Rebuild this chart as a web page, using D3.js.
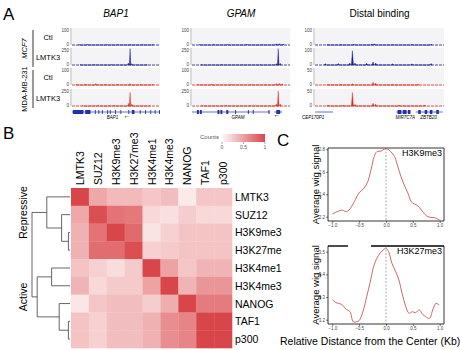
<!DOCTYPE html>
<html>
<head>
<meta charset="utf-8">
<script src="https://cdn.jsdelivr.net/npm/d3@7"></script>
<style>
  body { margin: 0; background: #fff; }
  svg { font-family: "Liberation Sans", Arial, sans-serif; }
</style>
</head>
<body>
<div id="chart"></div>
<script>
// ---------- Panel A data ----------
const loci = ["BAP1", "GPAM", "Distal binding"];
const cellLines = ["MCF7", "MDA-MB-231"];
const trackNames = ["Ctl", "LMTK3", "Ctl", "LMTK3"];
const trackMax = [[100, 250, 100, 250], [100, 250, 100, 250], [100, 100, 50, 50]];

// spikes per track: [position 0-100, value]
const bap1Signal = [
  [[8, 3], [18, 4], [40, 3], [52, 3], [66, 4], [80, 3], [92, 3]],
  [[10, 6], [25, 8], [45, 6], [64, 30], [66, 240], [68, 20], [85, 6]],
  [[5, 5], [15, 6], [27, 9], [38, 6], [52, 5], [66, 7], [78, 5], [92, 4]],
  [[12, 8], [30, 10], [48, 8], [64, 40], [66, 200], [68, 30], [88, 6]]
];
const gpamSignal = [
  [[8, 3], [22, 4], [36, 3], [56, 5], [72, 3], [86, 7], [89, 8], [93, 6]],
  [[10, 6], [30, 6], [52, 5], [70, 6], [86, 20], [88, 240], [90, 25]],
  [[6, 4], [20, 4], [40, 4], [60, 4], [75, 4], [86, 9], [89, 10], [92, 7]],
  [[10, 6], [35, 6], [60, 6], [86, 30], [88, 220], [90, 30]]
];
const distalSignal = [
  [[10, 3], [20, 3], [30, 4], [44, 6], [46, 7], [60, 3], [75, 3], [90, 3]],
  [[8, 8], [18, 9], [27, 12], [29, 84], [31, 12], [40, 10], [45, 18], [47, 12], [60, 8], [75, 7], [90, 9]],
  [[10, 2], [20, 2], [29, 4], [45, 8], [47, 6], [60, 2], [80, 2]],
  [[10, 3], [22, 3], [29, 40], [31, 5], [45, 8], [47, 6], [65, 3], [85, 3]]
];
const signals = [bap1Signal, gpamSignal, distalSignal];

// gene models: exons [start, end] in 0-100 units
const geneLines = [[[0, 100]], [[0, 80], [84, 92]], [[0, 14], [63, 74], [78, 99]]];
const geneExons = [
  [[1, 13], [15, 21], [26, 27], [30, 31], [34, 35], [40, 41], [43, 44], [49, 50], [55, 56], [64, 65], [68, 71], [77, 78], [83, 84], [89, 90], [94, 95], [99, 100]],
  [[5, 7], [8, 10], [26, 28], [29, 31], [35, 37], [44, 45], [57, 58], [62, 63], [78, 79], [86, 90]],
  [[64, 67], [68, 71], [72, 74], [80, 82], [85, 87], [89, 91], [94, 96]]
];
const geneLabels = [
  [["BAP1", 46]],
  [["GPAM", 47]],
  [["CEP170P1", -10], ["MIR7C7A", 70], ["ZBTB20", 88]]
];

// ---------- Panel B data ----------
const marks = ["LMTK3", "SUZ12", "H3K9me3", "H3K27me3", "H3K4me1", "H3K4me3", "NANOG", "TAF1", "p300"];
const rowLabels = ["LMTK3", "SUZ12", "H3K9me3", "H3K27me", "H3K4me1", "H3K4me3", "NANOG", "TAF1", "p300"];
const counts = [
  [1.00, 0.45, 0.35, 0.35, 0.28, 0.33, 0.08, 0.28, 0.28],
  [0.45, 0.95, 0.75, 0.72, 0.18, 0.14, 0.24, 0.18, 0.18],
  [0.40, 0.75, 1.00, 0.80, 0.12, 0.22, 0.30, 0.30, 0.30],
  [0.40, 0.78, 0.78, 0.95, 0.22, 0.26, 0.30, 0.30, 0.30],
  [0.30, 0.22, 0.16, 0.26, 1.00, 0.48, 0.28, 0.38, 0.38],
  [0.38, 0.18, 0.26, 0.26, 0.48, 1.00, 0.38, 0.55, 0.55],
  [0.10, 0.28, 0.33, 0.33, 0.24, 0.42, 1.00, 0.70, 0.70],
  [0.30, 0.22, 0.33, 0.33, 0.40, 0.60, 0.65, 1.00, 1.00],
  [0.30, 0.22, 0.33, 0.33, 0.40, 0.60, 0.65, 1.00, 1.00]
];
const legendTicks = [0, 0.5, 1];
const dendro = { h: 0.95, children: [
  { h: 0.58, children: [{ name: "LMTK3" }, { h: 0.21, children: [{ name: "SUZ12" }, { h: 0.04, children: [{ name: "H3K9me3" }, { name: "H3K27me3" }] }] }] },
  { h: 0.82, children: [
    { h: 0.46, children: [{ name: "H3K4me1" }, { name: "H3K4me3" }] },
    { h: 0.27, children: [{ name: "NANOG" }, { h: 0.04, children: [{ name: "TAF1" }, { name: "p300" }] }] }
  ] }
] };
const clusterNames = ["Repressive", "Active"];

// ---------- Panel C data ----------
const profileNames = ["H3K9me3", "H3K27me3"];
const k9x = [-1.0, -0.91, -0.81, -0.75, -0.69, -0.59, -0.5, -0.41, -0.34, -0.28, -0.22, -0.17, -0.09, -0.03, 0.03, 0.09, 0.16, 0.22, 0.28, 0.34, 0.41, 0.47, 0.53, 0.59, 0.66, 0.72, 0.78, 0.84, 0.91, 1.0];
const k9y = [2.224, 2.245, 2.259, 2.245, 2.259, 2.334, 2.414, 2.453, 2.512, 2.616, 2.735, 2.779, 2.785, 2.803, 2.803, 2.779, 2.735, 2.646, 2.556, 2.482, 2.408, 2.334, 2.313, 2.298, 2.259, 2.224, 2.2, 2.194, 2.191, 2.17];
const k27x = [-1.0, -0.93, -0.83, -0.74, -0.67, -0.61, -0.55, -0.5, -0.42, -0.36, -0.3, -0.23, -0.17, -0.11, -0.04, 0, 0.05, 0.11, 0.18, 0.24, 0.3, 0.37, 0.43, 0.49, 0.55, 0.62, 0.68, 0.74, 0.81, 0.87, 0.93, 0.99];
const k27y = [3.29, 3.275, 3.268, 3.246, 3.235, 3.191, 3.191, 3.196, 3.243, 3.301, 3.36, 3.434, 3.471, 3.493, 3.51, 3.515, 3.5, 3.449, 3.412, 3.375, 3.316, 3.257, 3.228, 3.235, 3.231, 3.243, 3.224, 3.213, 3.206, 3.243, 3.272, 3.265];
const xTicks = [-1, -0.5, 0, 0.5, 1];
const k9Ticks = [2.2, 2.4, 2.6, 2.8];
const k27Ticks = [3.2, 3.3, 3.4, 3.5];

// ---------- SVG ----------
const width = 460, height = 350;
const svg = d3.select("#chart").append("svg")
  .attr("width", width).attr("height", height);

const blue = "#1d1f8e", red = "#d6301e";

// panel letters
[["A", 3, 20], ["B", 3, 139], ["C", 277, 146]].forEach(d => {
  svg.append("text").attr("x", d[1]).attr("y", d[2]).text(d[0])
    .style("font-size", "17px");
});

// ---------- Panel A ----------
const lociX = [[72, 160], [192, 290], [315, 444]];
const trackTop = [28, 48, 68, 89];
const trackH = 17;

// titles
loci.forEach((name, i) => {
  svg.append("text")
    .attr("x", (lociX[i][0] + lociX[i][1]) / 2)
    .attr("y", 17)
    .attr("text-anchor", "middle")
    .style("font-size", "10px")
    .style("font-style", i < 2 ? "italic" : "normal")
    .text(name);
});

// cell line labels and brackets
cellLines.forEach((name, i) => {
  const y0 = trackTop[i * 2] + 2, y1 = trackTop[i * 2 + 1] + trackH + 2;
  svg.append("line").attr("x1", 33).attr("x2", 33).attr("y1", y0).attr("y2", y1)
    .attr("stroke", "#000").attr("stroke-width", 0.8);
  svg.append("text")
    .attr("transform", `translate(27,${(y0 + y1) / 2}) rotate(-90)`)
    .attr("text-anchor", "middle")
    .style("font-size", "7.5px")
    .style("font-style", i === 0 ? "italic" : "normal")
    .text(name);
});
trackNames.forEach((name, i) => {
  svg.append("text")
    .attr("x", 48).attr("y", trackTop[i] + 12)
    .attr("text-anchor", "middle")
    .style("font-size", "7.5px")
    .text(name);
});

signals.forEach((tracks, li) => {
  const x = d3.scaleLinear().domain([0, 100]).range(lociX[li]);
  const g = svg.append("g");
  tracks.forEach((spikes, ti) => {
    const color = ti < 2 ? blue : red;
    const y = d3.scaleLinear().domain([0, trackMax[li][ti]]).range([trackTop[ti] + trackH, trackTop[ti]]);
    g.append("rect")
      .attr("x", x(0)).attr("y", trackTop[ti])
      .attr("width", x(100) - x(0)).attr("height", trackH + 1)
      .attr("fill", "#f4f4f7");
    // axis
    g.append("line").attr("x1", x(0) - 1).attr("x2", x(0) - 1)
      .attr("y1", trackTop[ti]).attr("y2", trackTop[ti] + trackH)
      .attr("stroke", "#888").attr("stroke-width", 0.6);
    g.append("text")
      .attr("x", x(0) - 3).attr("y", trackTop[ti] + 3.5)
      .attr("text-anchor", "end")
      .style("font-size", "4.5px").attr("fill", "#444")
      .text(trackMax[li][ti]);
    g.append("text")
      .attr("x", x(0) - 3).attr("y", y(0) + 1)
      .attr("text-anchor", "end")
      .style("font-size", "4.5px").attr("fill", "#444")
      .text(0);
    // baseline
    g.append("line").attr("x1", x(0)).attr("x2", x(100))
      .attr("y1", y(0)).attr("y2", y(0))
      .attr("stroke", color).attr("stroke-width", 0.8)
      .attr("stroke-dasharray", "3 1");
    // spikes
    const pts = [];
    spikes.forEach(s => { pts.push([s[0] - 0.8, 0], [s[0], s[1]], [s[0] + 0.8, 0]); });
    pts.sort((a, b) => a[0] - b[0]);
    g.append("path")
      .datum(pts)
      .attr("fill", color)
      .attr("stroke", color).attr("stroke-width", 0.4)
      .attr("d", d3.area().x(d => x(d[0])).y0(y(0)).y1(d => y(d[1])));
  });
  // gene model
  const gy = 112;
  geneLines[li].forEach(l => {
    g.append("line").attr("x1", x(l[0])).attr("x2", x(l[1]))
      .attr("y1", gy).attr("y2", gy).attr("stroke", "#2233aa").attr("stroke-width", 0.7);
  });
  geneExons[li].forEach(e => {
    g.append("rect").attr("x", x(e[0])).attr("y", gy - 2)
      .attr("width", x(e[1]) - x(e[0])).attr("height", 4)
      .attr("fill", "#2233aa");
  });
  geneLabels[li].forEach(l => {
    g.append("text").attr("x", x(l[1])).attr("y", 119)
      .attr("text-anchor", l[1] < 0 ? "start" : "middle")
      .style("font-size", "4.5px").style("font-style", "italic")
      .text(l[0]);
  });
});
// strand arrows
svg.append("text").attr("x", 127).attr("y", 118).style("font-size", "7px").attr("text-anchor", "middle").text("←");
svg.append("text").attr("x", 277).attr("y", 117).style("font-size", "7px").attr("text-anchor", "middle").text("←");

// ---------- Panel B ----------
const hx = d3.scaleBand().domain(marks).range([71, 232]);
const hy = d3.scaleBand().domain(marks).range([188, 348]);
const color = d3.scaleLinear().domain([0, 1]).range(["#fff8f8", "#d9464a"]).interpolate(d3.interpolateRgb);

const cells = [];
counts.forEach((row, i) => row.forEach((v, j) => cells.push({ r: marks[i], c: marks[j], v })));
svg.append("g").selectAll("rect")
  .data(cells).enter().append("rect")
  .attr("x", d => hx(d.c)).attr("y", d => hy(d.r))
  .attr("width", hx.bandwidth() + 0.3).attr("height", hy.bandwidth() + 0.3)
  .attr("fill", d => color(d.v));

svg.append("g").selectAll("text")
  .data(marks).enter().append("text")
  .attr("transform", d => `translate(${hx(d) + hx.bandwidth() / 2 + 4},185) rotate(-90)`)
  .style("font-size", "10.5px")
  .text(d => d);

svg.append("g").selectAll("text")
  .data(rowLabels).enter().append("text")
  .attr("x", 235)
  .attr("y", (d, i) => hy(marks[i]) + hy.bandwidth() / 2 + 4)
  .style("font-size", "10.5px")
  .text(d => d);

// legend
const lx = d3.scaleLinear().domain([0, 1]).range([222, 265]);
const grad = svg.append("defs").append("linearGradient").attr("id", "cgrad");
legendTicks.forEach(t => grad.append("stop").attr("offset", t).attr("stop-color", color(t)));
svg.append("rect").attr("x", lx(0)).attr("y", 134).attr("width", lx(1) - lx(0)).attr("height", 8)
  .attr("fill", "url(#cgrad)");
svg.append("text").attr("x", 219).attr("y", 139).attr("text-anchor", "end")
  .style("font-size", "6px").attr("fill", "#555").text("Counts");
legendTicks.forEach(t => {
  svg.append("line").attr("x1", lx(t)).attr("x2", lx(t)).attr("y1", 142).attr("y2", 144)
    .attr("stroke", "#555").attr("stroke-width", 0.5);
  svg.append("text").attr("x", lx(t)).attr("y", 149).attr("text-anchor", "middle")
    .style("font-size", "5px").attr("fill", "#555").text(t);
});

// dendrogram
const root = d3.hierarchy(dendro);
const dx = d3.scaleLinear().domain([0, 0.95]).range([70, 32]);
root.eachAfter(n => {
  n.py = n.children ? d3.mean(n.children, c => c.py) : hy(n.data.name) + hy.bandwidth() / 2;
  n.px = dx(n.data.h || 0);
});
const dg = svg.append("g").attr("stroke", "#555").attr("stroke-width", 0.9).attr("fill", "none");
root.descendants().filter(n => n.children).forEach(n => {
  dg.append("line").attr("x1", n.px).attr("x2", n.px)
    .attr("y1", d3.min(n.children, c => c.py)).attr("y2", d3.max(n.children, c => c.py));
  n.children.forEach(c => {
    dg.append("line").attr("x1", n.px).attr("x2", c.px).attr("y1", c.py).attr("y2", c.py);
  });
});
root.children.forEach((c, i) => {
  svg.append("text")
    .attr("transform", `translate(27,${c.py}) rotate(-90)`)
    .attr("text-anchor", "middle")
    .style("font-size", "10.5px")
    .text(clusterNames[i]);
});

// ---------- Panel C ----------
const cx = d3.scaleLinear().domain([-1.08, 1.08]).range([328, 444]);
const plots = [
  { name: profileNames[0], xs: k9x, ys: k9y, ticks: k9Ticks, top: 148, bottom: 221, domain: [2.162, 2.812], gap: null },
  { name: profileNames[1], xs: k27x, ys: k27y, ticks: k27Ticks, top: 246, bottom: 324, domain: [3.181, 3.525], gap: [348, 371] }
];
plots.forEach(p => {
  const y = d3.scaleLinear().domain(p.domain).range([p.bottom, p.top]);
  const g = svg.append("g");
  // box
  const bx = [cx.range()[0], cx.range()[1]];
  g.append("line").attr("x1", bx[0]).attr("x2", bx[0]).attr("y1", p.top).attr("y2", p.bottom).attr("stroke", "#000").attr("stroke-width", 0.8);
  g.append("line").attr("x1", bx[1]).attr("x2", bx[1]).attr("y1", p.top).attr("y2", p.bottom).attr("stroke", "#000").attr("stroke-width", 0.8);
  g.append("line").attr("x1", bx[0]).attr("x2", bx[1]).attr("y1", p.bottom).attr("y2", p.bottom).attr("stroke", "#000").attr("stroke-width", 0.8);
  const topSegs = p.gap ? [[bx[0], p.gap[0]], [p.gap[1], bx[1]]] : [bx];
  topSegs.forEach(s => g.append("line").attr("x1", s[0]).attr("x2", s[1]).attr("y1", p.top).attr("y2", p.top).attr("stroke", "#000").attr("stroke-width", p.gap ? 1.4 : 0.8));

  g.append("g").attr("transform", `translate(0,${p.bottom})`)
    .call(d3.axisBottom(cx).tickValues(xTicks).tickSize(2).tickPadding(1).tickFormat(d3.format(".1f")))
    .call(a => a.select(".domain").remove())
    .call(a => a.selectAll("text").style("font-size", "4.5px").attr("fill", "#444"))
    .call(a => a.selectAll("line").attr("stroke-width", 0.5));
  g.append("g").attr("transform", `translate(${bx[0]},0)`)
    .call(d3.axisLeft(y).tickValues(p.ticks).tickSize(2).tickPadding(1).tickFormat(d3.format(".1f")))
    .call(a => a.select(".domain").remove())
    .call(a => a.selectAll("text").style("font-size", "4.5px").attr("fill", "#444"))
    .call(a => a.selectAll("line").attr("stroke-width", 0.5));

  g.append("line").attr("x1", cx(0)).attr("x2", cx(0)).attr("y1", p.top).attr("y2", p.bottom)
    .attr("stroke", "#777").attr("stroke-width", 0.6).attr("stroke-dasharray", "2 1.5");

  g.append("path")
    .datum(d3.zip(p.xs, p.ys))
    .attr("fill", "none").attr("stroke", "#bd5a55").attr("stroke-width", 0.9)
    .attr("d", d3.line().x(d => cx(d[0])).y(d => y(d[1])).curve(d3.curveCatmullRom));

  g.append("text").attr("x", bx[1] - 2).attr("y", p.top + 8)
    .attr("text-anchor", "end").style("font-size", "9px").text(p.name);

  svg.append("text")
    .attr("transform", `translate(319,${(p.top + p.bottom) / 2}) rotate(-90)`)
    .attr("text-anchor", "middle")
    .style("font-size", "9.5px")
    .text("Average wig signal");
});
svg.append("text").attr("x", 280).attr("y", 345)
  .style("font-size", "10.5px")
  .text("Relative Distance from the Center (Kb)");
</script>
</body>
</html>
